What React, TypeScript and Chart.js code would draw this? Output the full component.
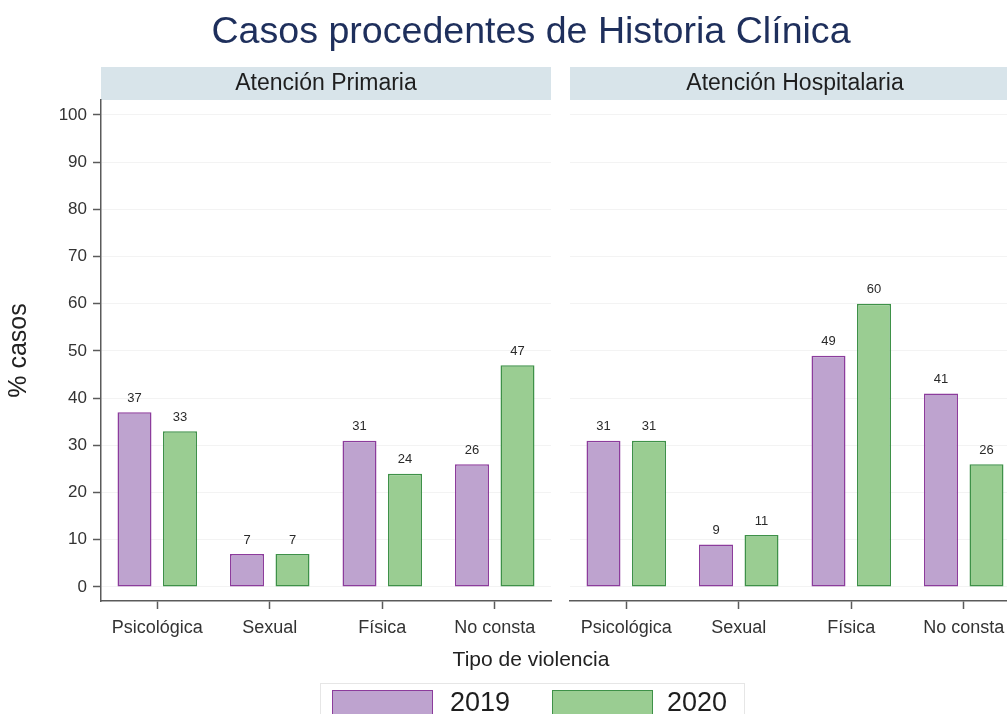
import React, { useEffect, useRef } from 'react';
import { Chart, registerables } from 'chart.js';

Chart.register(...registerables);

const FONT = '"Liberation Sans", Arial, Helvetica, sans-serif';

const chartTitle = 'Casos procedentes de Historia Clínica';
const xAxisTitle = 'Tipo de violencia';
const yAxisTitle = '% casos';
const categories = ['Psicológica', 'Sexual', 'Física', 'No consta'];
const seriesNames = ['2019', '2020'];
const panelTitles = ['Atención Primaria', 'Atención Hospitalaria'];
const primaria2019 = [37, 7, 31, 26];
const primaria2020 = [33, 7, 24, 47];
const hospital2019 = [31, 9, 49, 41];
const hospital2020 = [31, 11, 60, 26];
const yTicks = [0, 10, 20, 30, 40, 50, 60, 70, 80, 90, 100];

const PURPLE_FILL = '#bea3cf';
const PURPLE_LINE = '#8c3c9c';
const GREEN_FILL = '#9acd92';
const GREEN_LINE = '#3e9148';
const AXIS = '#5a5a5a';
const TEXT = '#333333';

const stripPlugin = {
  id: 'strip',
  beforeDraw(chart: any, _args: any, opts: any) {
    const { ctx, chartArea } = chart;
    ctx.save();
    ctx.fillStyle = '#d8e4ea';
    ctx.fillRect(chartArea.left, 67, chartArea.right - chartArea.left, 33);
    ctx.fillStyle = '#1e1e1e';
    ctx.font = `23px ${FONT}`;
    ctx.textAlign = 'center';
    ctx.textBaseline = 'middle';
    ctx.fillText(opts.text, (chartArea.left + chartArea.right) / 2, 84);
    ctx.restore();
  },
};

const valueLabelPlugin = {
  id: 'valueLabels',
  afterDatasetsDraw(chart: any) {
    const { ctx } = chart;
    ctx.save();
    ctx.fillStyle = '#2a2a2a';
    ctx.font = `13px ${FONT}`;
    ctx.textAlign = 'center';
    ctx.textBaseline = 'middle';
    chart.data.datasets.forEach((ds: any, i: number) => {
      const meta = chart.getDatasetMeta(i);
      meta.data.forEach((bar: any, j: number) => {
        ctx.fillText(String(ds.data[j]), bar.x, bar.y - 14);
      });
    });
    ctx.restore();
  },
};

function makeConfig(panel: string, d2019: number[], d2020: number[], showY: boolean): any {
  return {
    type: 'bar',
    data: {
      labels: categories,
      datasets: [
        {
          label: seriesNames[0],
          data: d2019,
          backgroundColor: PURPLE_FILL,
          borderColor: PURPLE_LINE,
          borderWidth: 1.5,
          borderSkipped: false,
        },
        {
          label: seriesNames[1],
          data: d2020,
          backgroundColor: GREEN_FILL,
          borderColor: GREEN_LINE,
          borderWidth: 1.5,
          borderSkipped: false,
        },
      ],
    },
    options: {
      responsive: false,
      animation: false,
      devicePixelRatio: 1,
      datasets: { bar: { categoryPercentage: 0.809, barPercentage: 0.747 } },
      layout: {
        padding: showY
          ? { top: 100, left: 0, right: 9, bottom: 73 }
          : { top: 100, left: 10, right: 0, bottom: 73 },
      },
      plugins: {
        legend: { display: false },
        tooltip: { enabled: false },
        title: { display: false },
        strip: { text: panel },
      },
      scales: {
        x: {
          type: 'category',
          afterFit: (scale: any) => {
            scale.height = 40;
          },
          grid: {
            display: true,
            drawOnChartArea: false,
            drawTicks: true,
            offset: false,
            tickLength: 8,
            tickColor: AXIS,
            tickWidth: 1.5,
          },
          border: { display: true, color: AXIS, width: 1.5 },
          ticks: {
            color: TEXT,
            font: { size: 18, family: FONT },
            padding: 8,
            maxRotation: 0,
            autoSkip: false,
          },
        },
        y: {
          type: 'linear',
          min: -2.97,
          max: 103.17,
          afterBuildTicks: (scale: any) => {
            scale.ticks = yTicks.map((v) => ({ value: v }));
          },
          afterFit: (scale: any) => {
            scale.width = showY ? 101 : 0;
          },
          grid: {
            display: true,
            drawOnChartArea: true,
            drawTicks: showY,
            tickLength: 8,
            tickColor: AXIS,
            tickWidth: 1.5,
            color: '#f3f3f3',
            lineWidth: 1,
          },
          border: { display: showY, color: AXIS, width: 1.5 },
          ticks: {
            display: showY,
            color: TEXT,
            font: { size: 17, family: FONT },
            padding: 6,
            callback: (v: any) => String(v),
          },
          title: {
            display: showY,
            text: yAxisTitle,
            color: '#222',
            font: { size: 25, family: FONT },
            padding: { top: 4, bottom: 0 },
          },
        },
      },
    },
    plugins: [stripPlugin, valueLabelPlugin],
  };
}

function Panel(props: { left: number; width: number; panel: string; d2019: number[]; d2020: number[]; showY: boolean }) {
  const ref = useRef<HTMLCanvasElement>(null);
  useEffect(() => {
    if (!ref.current) return;
    const chart = new Chart(ref.current, makeConfig(props.panel, props.d2019, props.d2020, props.showY));
    return () => chart.destroy();
  }, []);
  return (
    <canvas
      ref={ref}
      width={props.width}
      height={714}
      style={{ position: 'absolute', left: props.left, top: 0, width: props.width, height: 714 }}
    />
  );
}

export default function App() {
  return (
    <div
      style={{
        position: 'fixed',
        left: 0,
        top: 0,
        width: 1007,
        height: 714,
        overflow: 'hidden',
        background: '#ffffff',
        fontFamily: FONT,
      }}
    >
      <Panel left={0} width={560} panel={panelTitles[0]} d2019={primaria2019} d2020={primaria2020} showY={true} />
      <Panel left={560} width={460} panel={panelTitles[1]} d2019={hospital2019} d2020={hospital2020} showY={false} />
      <div
        style={{
          position: 'absolute',
          left: 0,
          width: 1062,
          top: 12,
          textAlign: 'center',
          fontSize: 37.6,
          lineHeight: '37px',
          color: '#1e2f5c',
          whiteSpace: 'nowrap',
        }}
      >
        {chartTitle}
      </div>
      <div
        style={{
          position: 'absolute',
          left: 0,
          width: 1062,
          top: 647,
          textAlign: 'center',
          fontSize: 21,
          lineHeight: '24px',
          color: '#222',
          whiteSpace: 'nowrap',
        }}
      >
        {xAxisTitle}
      </div>
      <div
        style={{
          position: 'absolute',
          left: 320,
          top: 683,
          width: 425,
          height: 60,
          border: '1px solid #e6e6e6',
          boxSizing: 'border-box',
        }}
      >
        <div
          style={{
            position: 'absolute',
            left: 11,
            top: 6,
            width: 101,
            height: 40,
            background: PURPLE_FILL,
            border: `1.5px solid ${PURPLE_LINE}`,
            boxSizing: 'border-box',
          }}
        />
        <div style={{ position: 'absolute', left: 129, top: 5, fontSize: 27, lineHeight: '27px', color: '#1e1e1e' }}>
          {seriesNames[0]}
        </div>
        <div
          style={{
            position: 'absolute',
            left: 231,
            top: 6,
            width: 101,
            height: 40,
            background: GREEN_FILL,
            border: `1.5px solid ${GREEN_LINE}`,
            boxSizing: 'border-box',
          }}
        />
        <div style={{ position: 'absolute', left: 346, top: 5, fontSize: 27, lineHeight: '27px', color: '#1e1e1e' }}>
          {seriesNames[1]}
        </div>
      </div>
    </div>
  );
}
